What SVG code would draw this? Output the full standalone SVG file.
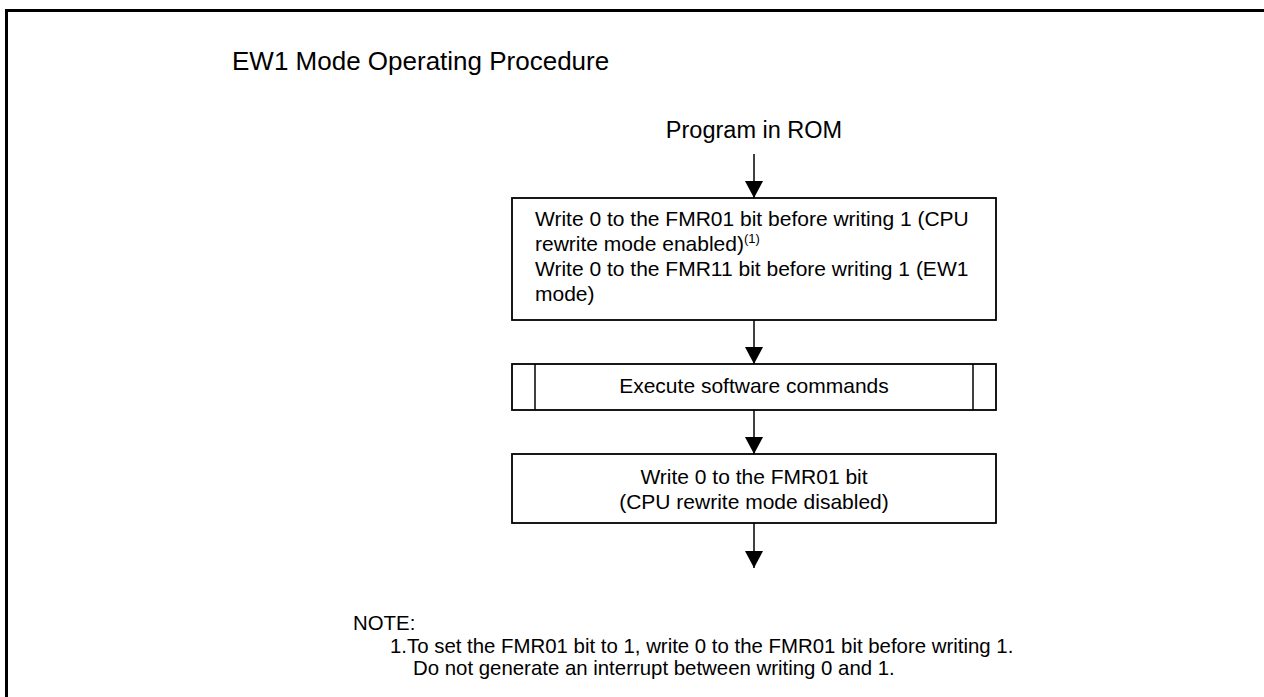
<svg xmlns="http://www.w3.org/2000/svg" width="1264" height="697" viewBox="0 0 1264 697">
<style>
text{font-family:"Liberation Sans",Arial,sans-serif;fill:#000}
.t{font-size:21px}
.n{font-size:20.4px}
.box{fill:#fff;stroke:#000;stroke-width:1.8}
.ln{stroke:#000;stroke-width:1.5;fill:none}
</style>
<defs>
<marker id="ah" markerWidth="18" markerHeight="18" refX="17" refY="9" orient="auto" markerUnits="userSpaceOnUse">
<path d="M0,0 L17,9 L0,18 Z" fill="#000"/>
</marker>
</defs>
<rect x="6.5" y="10.5" width="1300" height="720" fill="#fff" stroke="#000" stroke-width="3"/>
<text id="title" x="232" y="70" font-size="26">EW1 Mode Operating Procedure</text>
<g id="start"><text x="754" y="138" font-size="23.5" text-anchor="middle">Program in ROM</text></g>
<g id="connectors">
<line class="ln" x1="754" y1="154" x2="754" y2="198" marker-end="url(#ah)"/>
<line class="ln" x1="754" y1="320" x2="754" y2="364" marker-end="url(#ah)"/>
<line class="ln" x1="754" y1="410" x2="754" y2="454" marker-end="url(#ah)"/>
<line class="ln" x1="754" y1="523" x2="754" y2="568" marker-end="url(#ah)"/>
</g>
<g id="step1">
<rect class="box" x="512" y="198" width="484" height="122"/>
<text class="t" x="535" y="226">Write 0 to the FMR01 bit before writing 1 (CPU</text>
<text class="t" x="535" y="251">rewrite mode enabled)<tspan font-size="13" dy="-8">(1)</tspan></text>
<text class="t" x="535" y="276">Write 0 to the FMR11 bit before writing 1 (EW1</text>
<text class="t" x="535" y="301">mode)</text>
</g>
<g id="step2">
<rect class="box" x="512" y="364" width="484" height="46"/>
<line class="ln" x1="535" y1="364" x2="535" y2="410"/>
<line class="ln" x1="973" y1="364" x2="973" y2="410"/>
<text class="t" x="754" y="393" text-anchor="middle">Execute software commands</text>
</g>
<g id="step3">
<rect class="box" x="512" y="454" width="484" height="69"/>
<text class="t" x="754" y="484" text-anchor="middle">Write 0 to the FMR01 bit</text>
<text class="t" x="754" y="509" text-anchor="middle">(CPU rewrite mode disabled)</text>
</g>
<g id="note">
<text class="n" x="353" y="630">NOTE:</text>
<text class="n" x="390" y="653">1.To set the FMR01 bit to 1, write 0 to the FMR01 bit before writing 1.</text>
<text class="n" x="413" y="675">Do not generate an interrupt between writing 0 and 1.</text>
</g>
</svg>
